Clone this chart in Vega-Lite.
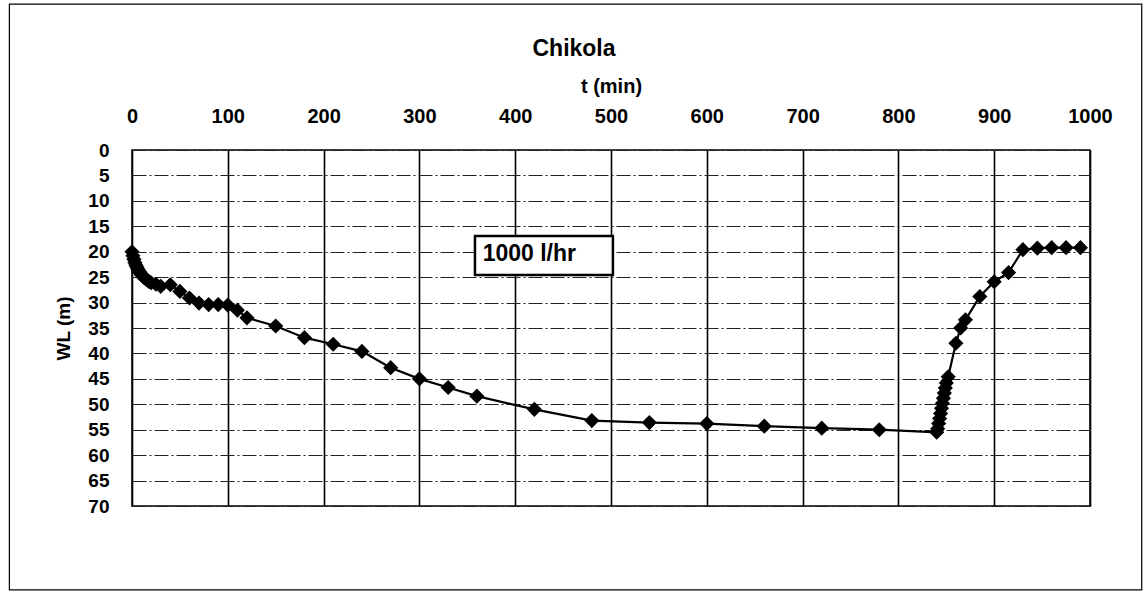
{
  "$schema": "https://vega.github.io/schema/vega-lite/v6.json",
  "width": 958,
  "height": 356,
  "autosize": "none",
  "padding": {"left": 132, "top": 150, "right": 56, "bottom": 87},
  "background": "white",
  "config": {
    "font": "Liberation Sans",
    "view": {"stroke": "black", "strokeWidth": 1.5},
    "axis": {"labelColor": "black", "titleColor": "black", "domain": false, "ticks": false}
  },
  "title": {
    "text": "Chikola",
    "fontSize": 23,
    "fontWeight": "bold",
    "color": "black",
    "anchor": "middle",
    "dx": -37,
    "offset": -58
  },
  "datasets": {
    "obs": [
      {"t": 0, "wl": 20.0}, {"t": 1, "wl": 20.8}, {"t": 2, "wl": 21.5}, {"t": 3, "wl": 22.1},
      {"t": 4, "wl": 22.6}, {"t": 5, "wl": 23.0}, {"t": 6, "wl": 23.4}, {"t": 7, "wl": 23.7},
      {"t": 8, "wl": 24.0}, {"t": 9, "wl": 24.3}, {"t": 10, "wl": 24.6}, {"t": 12, "wl": 25.0},
      {"t": 14, "wl": 25.3}, {"t": 16, "wl": 25.6}, {"t": 18, "wl": 25.9}, {"t": 20, "wl": 26.1},
      {"t": 25, "wl": 26.4}, {"t": 30, "wl": 26.8}, {"t": 40, "wl": 26.5}, {"t": 50, "wl": 27.8},
      {"t": 60, "wl": 29.1}, {"t": 70, "wl": 30.1}, {"t": 80, "wl": 30.4}, {"t": 90, "wl": 30.4},
      {"t": 100, "wl": 30.5}, {"t": 110, "wl": 31.5}, {"t": 120, "wl": 33.0}, {"t": 150, "wl": 34.6},
      {"t": 180, "wl": 36.9}, {"t": 210, "wl": 38.2}, {"t": 240, "wl": 39.6}, {"t": 270, "wl": 42.8},
      {"t": 300, "wl": 45.0}, {"t": 330, "wl": 46.7}, {"t": 360, "wl": 48.4}, {"t": 420, "wl": 51.0},
      {"t": 480, "wl": 53.2}, {"t": 540, "wl": 53.6}, {"t": 600, "wl": 53.8}, {"t": 660, "wl": 54.3},
      {"t": 720, "wl": 54.7}, {"t": 780, "wl": 55.0}, {"t": 840, "wl": 55.5}, {"t": 841, "wl": 54.8},
      {"t": 842, "wl": 53.8}, {"t": 843, "wl": 52.8}, {"t": 844, "wl": 51.8}, {"t": 845, "wl": 50.8},
      {"t": 846, "wl": 49.8}, {"t": 847, "wl": 48.8}, {"t": 848, "wl": 47.8}, {"t": 849, "wl": 46.8},
      {"t": 850, "wl": 45.8}, {"t": 852, "wl": 44.6}, {"t": 860, "wl": 38.0}, {"t": 865, "wl": 35.0},
      {"t": 870, "wl": 33.4}, {"t": 885, "wl": 28.8}, {"t": 900, "wl": 25.9}, {"t": 915, "wl": 24.1},
      {"t": 930, "wl": 19.6}, {"t": 945, "wl": 19.3}, {"t": 960, "wl": 19.2}, {"t": 975, "wl": 19.2},
      {"t": 990, "wl": 19.2}
    ],
    "note": [
      {"t0": 358, "t1": 502, "w0": 16.9, "w1": 24.6, "tx": 366, "wy": 20.4, "label": "1000 l/hr"}
    ],
    "frame": [
      {"t0": -128, "t1": 1054, "w0": -28.7, "w1": 86.5}
    ]
  },
  "encoding": {
    "x": {
      "field": "t",
      "type": "quantitative",
      "scale": {"domain": [0, 1000], "nice": false, "zero": false},
      "axis": {
        "orient": "top",
        "title": "t (min)",
        "titleFontSize": 20,
        "titleFontWeight": "bold",
        "titlePadding": 10,
        "values": [0, 100, 200, 300, 400, 500, 600, 700, 800, 900, 1000],
        "format": "d",
        "labelFontSize": 20,
        "labelFontWeight": "bold",
        "labelPadding": 24,
        "labelFlush": false,
        "grid": true,
        "gridColor": "black",
        "gridWidth": 1.6,
        "gridOpacity": 1
      }
    },
    "y": {
      "field": "wl",
      "type": "quantitative",
      "scale": {"domain": [0, 70], "reverse": true, "nice": false, "zero": false},
      "axis": {
        "title": "WL (m)",
        "titleFontSize": 19,
        "titleFontWeight": "bold",
        "titlePadding": 14,
        "values": [0, 5, 10, 15, 20, 25, 30, 35, 40, 45, 50, 55, 60, 65, 70],
        "labelFontSize": 19,
        "labelFontWeight": "bold",
        "labelPadding": 23,
        "labelFlush": false,
        "grid": true,
        "gridColor": "#222",
        "gridWidth": 1,
        "gridDash": [14, 3, 2, 3],
        "gridOpacity": 1
      }
    }
  },
  "layer": [
    {
      "data": {"name": "frame"},
      "mark": {"type": "rect", "fill": null, "stroke": "black", "strokeWidth": 1.2, "clip": false},
      "encoding": {
        "x": {"field": "t0", "type": "quantitative"},
        "x2": {"field": "t1"},
        "y": {"field": "w0", "type": "quantitative"},
        "y2": {"field": "w1"}
      }
    },
    {
      "data": {"name": "obs"},
      "mark": {"type": "line", "color": "black", "strokeWidth": 2.2}
    },
    {
      "data": {"name": "obs"},
      "mark": {"type": "point", "shape": "diamond", "filled": true, "color": "black", "opacity": 1, "size": 230}
    },
    {
      "data": {"name": "note"},
      "mark": {"type": "rect", "fill": "white", "stroke": "black", "strokeWidth": 2.5},
      "encoding": {
        "x": {"field": "t0", "type": "quantitative"},
        "x2": {"field": "t1"},
        "y": {"field": "w0", "type": "quantitative"},
        "y2": {"field": "w1"}
      }
    },
    {
      "data": {"name": "note"},
      "mark": {"type": "text", "align": "left", "baseline": "middle", "fontSize": 23, "fontWeight": "bold", "color": "black"},
      "encoding": {
        "x": {"field": "tx", "type": "quantitative"},
        "y": {"field": "wy", "type": "quantitative"},
        "text": {"field": "label"}
      }
    }
  ]
}
